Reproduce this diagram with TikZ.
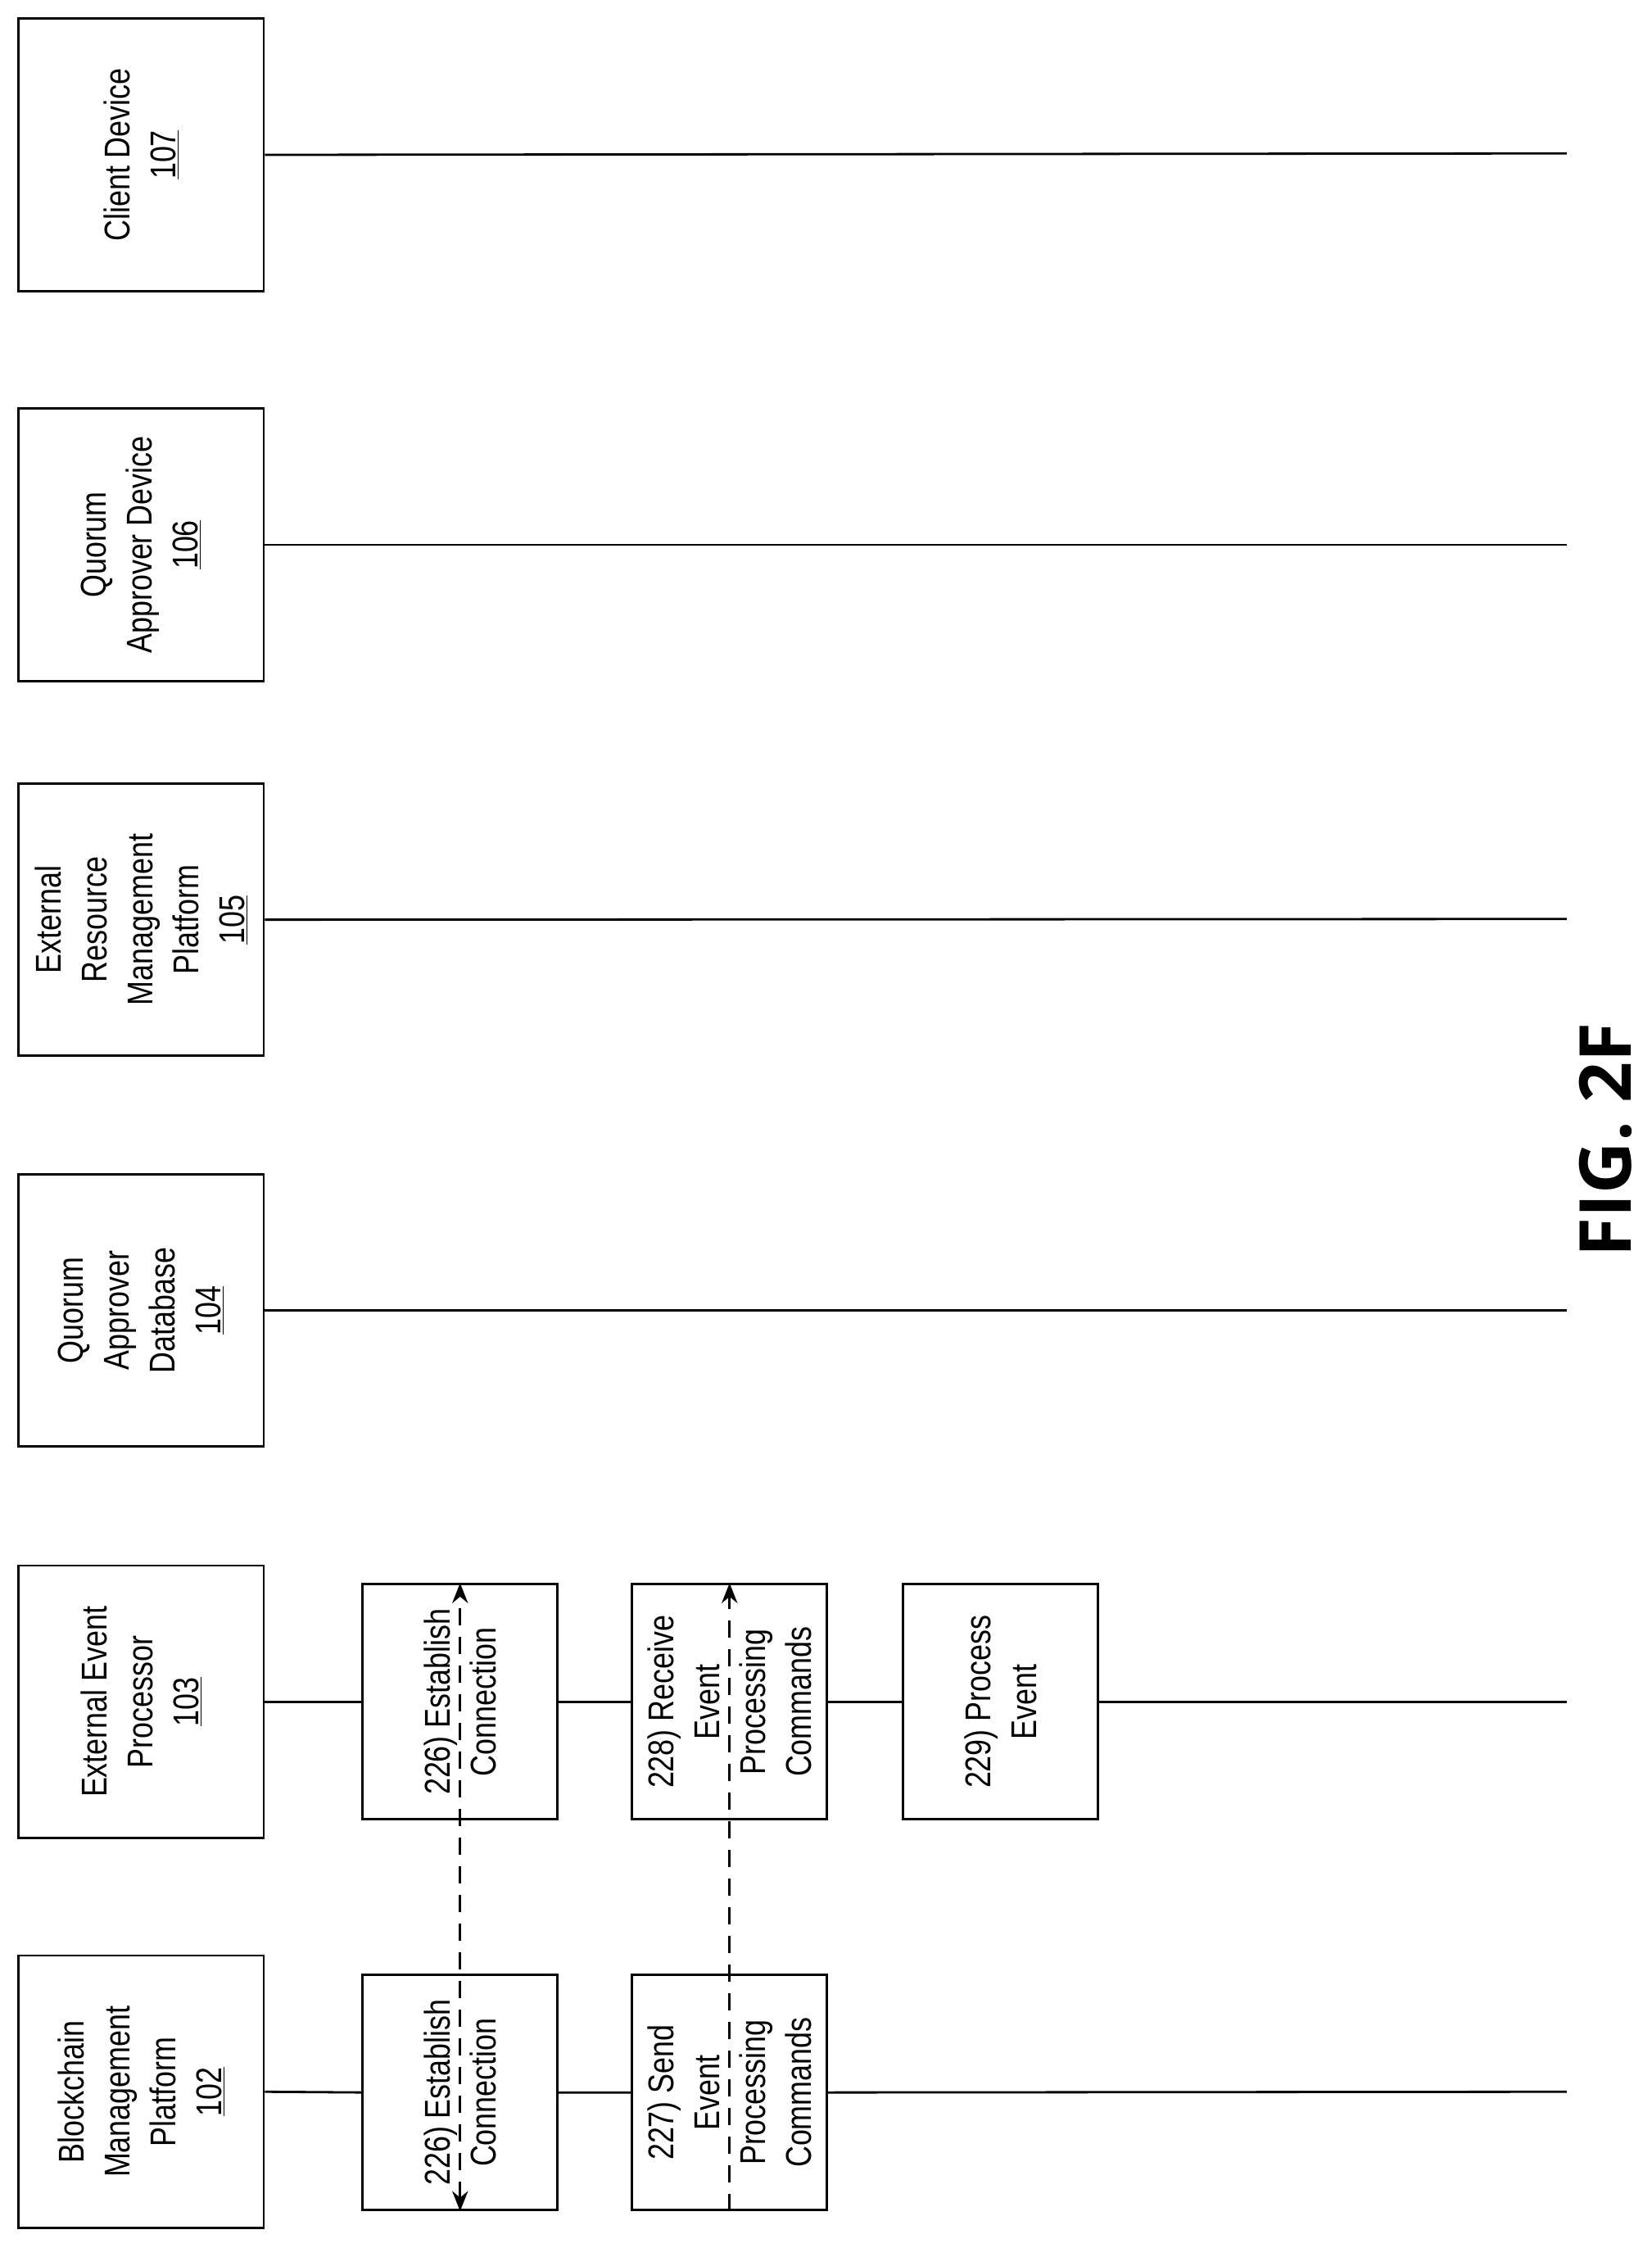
\documentclass[tikz,border=0pt]{standalone}
\usepackage{fontspec}
\setmainfont[FakeStretch=0.82]{Liberation Sans}
\newfontfamily\figfont{Open Sans}
\usetikzlibrary{arrows.meta}
\begin{document}
\begin{tikzpicture}[x=1pt,y=-1pt,
  hdr/.style={draw,line width=1.6pt,rotate=90,minimum width=190pt,minimum height=171pt,align=center,font=\fontsize{25}{32}\selectfont,inner sep=2pt},
  stepbox/.style={draw,line width=1.6pt,rotate=90,minimum width=164pt,minimum height=136pt,align=center,font=\fontsize{25}{32}\selectfont,inner sep=2pt},
  life/.style={line width=1.6pt},
  msg/.style={line width=1.8pt,dash pattern=on 12pt off 8pt,-{Stealth[length=14pt,width=11pt]}}]
\useasboundingbox (0,0) rectangle (1152,1568);
\node[hdr] (c107) at (98.5,108) {Client Device\\\underline{107}};
\node[hdr] (q106) at (98.5,380) {Quorum\\Approver Device\\\underline{106}};
\node[hdr] (e105) at (98.5,641.5) {External\\Resource\\Management\\Platform\\\underline{105}};
\node[hdr] (q104) at (98.5,914) {Quorum\\Approver\\Database\\\underline{104}};
\node[hdr] (e103) at (98.5,1187) {External Event\\Processor\\\underline{103}};
\node[hdr] (b102) at (98.5,1459) {Blockchain\\Management\\Platform\\\underline{102}};
\coordinate (t107) at (1093,107);
\coordinate (t106) at (1093,380);
\coordinate (t105) at (1093,641);
\coordinate (t104) at (1093,914);
\coordinate (t103) at (1093,1187);
\coordinate (t102) at (1093,1459);
\node[stepbox] (a226) at (321,1459.5) {226) Establish\\Connection};
\node[stepbox] (b226) at (321,1187) {226) Establish\\Connection};
\node[stepbox] (s227) at (509,1459.5) {227) Send\\Event\\Processing\\Commands};
\node[stepbox] (r228) at (509,1187) {228) Receive\\Event\\Processing\\Commands};
\node[stepbox] (p229) at (698,1187) {229) Process\\Event};
\draw[life] (c107.south) -- (t107);
\draw[life] (q106.south) -- (t106);
\draw[life] (e105.south) -- (t105);
\draw[life] (q104.south) -- (t104);
\draw[life] (e103.south) -- (b226.north) (b226.south) -- (r228.north) (r228.south) -- (p229.north) (p229.south) -- (t103);
\draw[life] (b102.south) -- (a226.north) (a226.south) -- (s227.north) (s227.south) -- (t102);
\draw[msg,{Stealth[length=14pt,width=11pt]}-{Stealth[length=14pt,width=11pt]}] (a226.west) -- (b226.east);
\draw[msg] (s227.west) -- (r228.east);
\node[rotate=90,font=\figfont\bfseries\fontsize{50}{60}\selectfont] (fig) at (1120,795) {FIG. 2F};
\end{tikzpicture}
\end{document}
